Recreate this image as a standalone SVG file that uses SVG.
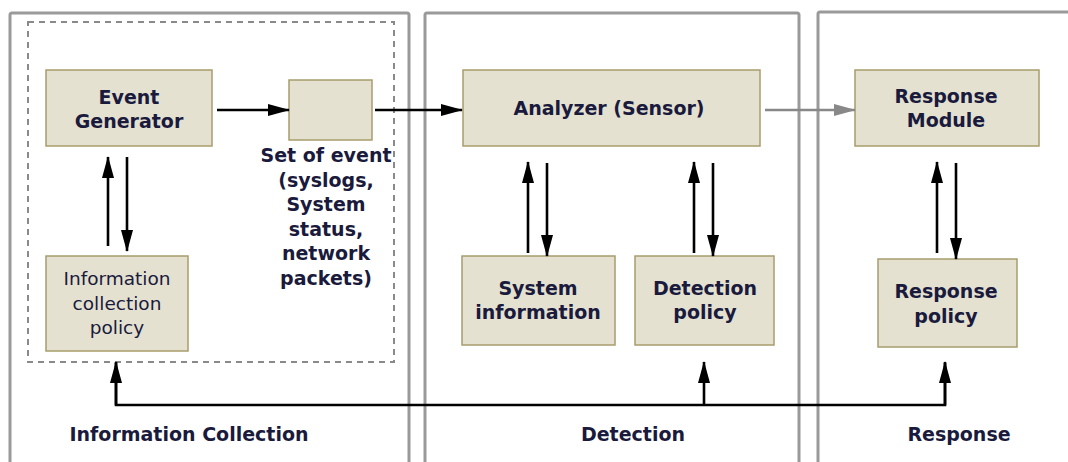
<svg xmlns="http://www.w3.org/2000/svg" width="1068" height="462" viewBox="0 0 1068 462">
<defs>
<marker id="ah" markerUnits="userSpaceOnUse" markerWidth="22" markerHeight="14" viewBox="0 0 22 14" refX="21" refY="7" orient="auto"><path d="M0,1 L22,7 L0,13 Z" fill="#000"/></marker>
<marker id="ahg" markerUnits="userSpaceOnUse" markerWidth="22" markerHeight="14" viewBox="0 0 22 14" refX="21" refY="7" orient="auto"><path d="M0,1 L22,7 L0,13 Z" fill="#888"/></marker>
<style>
.panel{fill:#fff;stroke:#9a9a9a;stroke-width:3}
.box{fill:#e4e1d1;stroke:#a89c6c;stroke-width:1.5}
.t{font-family:"DejaVu Sans",Verdana,sans-serif;font-size:19px;font-weight:bold;fill:#1a1a3c;text-anchor:middle}
.r{font-family:"DejaVu Sans",Verdana,sans-serif;font-size:18.5px;fill:#1a1a3c;text-anchor:middle}
.c{fill:none;stroke:#000;stroke-width:2.6}
.g{fill:none;stroke:#888;stroke-width:2.6}
</style>
</defs>
<rect width="1068" height="462" fill="#fff"/>
<g id="panels">
<path class="panel" d="M10,475 V15 Q10,13 12,13 H407 Q409,13 409,15 V475"/>
<path class="panel" d="M425,475 V15 Q425,13 427,13 H797 Q799,13 799,15 V475"/>
<path class="panel" d="M818,475 V14 Q818,12 820,12 H1080"/>
<rect x="28" y="22" width="366" height="340" fill="none" stroke="#8a8a8a" stroke-width="2" stroke-dasharray="6,5"/>
</g>
<g id="event-generator"><rect class="box" x="46" y="70" width="166" height="76"/><text class="t" x="129" y="104">Event</text><text class="t" x="129" y="128">Generator</text></g>
<g id="set-of-event"><rect class="box" x="289" y="80" width="83" height="60"/>
<text class="t" font-size="18.5" x="326" y="162">Set of event</text><text class="t" x="326" y="186.5">(syslogs,</text><text class="t" x="326" y="211">System</text><text class="t" x="326" y="235.5">status,</text><text class="t" x="326" y="260">network</text><text class="t" x="326" y="284.5">packets)</text></g>
<g id="info-collection-policy"><rect class="box" x="46" y="256" width="142" height="95"/><text class="r" x="117" y="285">Information</text><text class="r" x="117" y="310">collection</text><text class="r" x="117" y="334">policy</text></g>
<g id="analyzer"><rect class="box" x="463" y="70" width="297" height="76"/><text class="t" x="609" y="115">Analyzer (Sensor)</text></g>
<g id="system-information"><rect class="box" x="462" y="256" width="153" height="89"/><text class="t" x="538" y="295">System</text><text class="t" x="538" y="319">information</text></g>
<g id="detection-policy"><rect class="box" x="635" y="256" width="139" height="89"/><text class="t" x="705" y="295">Detection</text><text class="t" x="705" y="319">policy</text></g>
<g id="response-module"><rect class="box" x="855" y="70" width="184" height="76"/><text class="t" x="946" y="103">Response</text><text class="t" x="946" y="127">Module</text></g>
<g id="response-policy"><rect class="box" x="878" y="259" width="139" height="88"/><text class="t" x="946" y="298">Response</text><text class="t" x="946" y="323">policy</text></g>
<g id="labels">
<text class="t" x="189" y="441">Information Collection</text>
<text class="t" x="633" y="441">Detection</text>
<text class="t" x="959" y="441">Response</text>
</g>
<g id="connectors">
<line class="c" x1="217" y1="110" x2="289" y2="110" marker-end="url(#ah)"/>
<line class="c" x1="375" y1="110" x2="462" y2="110" marker-end="url(#ah)"/>
<line class="g" x1="765" y1="110" x2="855" y2="110" marker-end="url(#ahg)"/>
<line class="c" x1="108" y1="246" x2="108" y2="157" marker-end="url(#ah)"/>
<line class="c" x1="127" y1="157" x2="127" y2="251" marker-end="url(#ah)"/>
<line class="c" x1="528" y1="253" x2="528" y2="162" marker-end="url(#ah)"/>
<line class="c" x1="547" y1="163" x2="547" y2="256" marker-end="url(#ah)"/>
<line class="c" x1="694" y1="253" x2="694" y2="162" marker-end="url(#ah)"/>
<line class="c" x1="713" y1="163" x2="713" y2="256" marker-end="url(#ah)"/>
<line class="c" x1="937" y1="253" x2="937" y2="162" marker-end="url(#ah)"/>
<line class="c" x1="956" y1="163" x2="956" y2="259" marker-end="url(#ah)"/>
<polyline class="c" points="116,363 116,405 945,405 945,363"/>
<line class="c" x1="116" y1="405" x2="116" y2="362" marker-end="url(#ah)"/>
<line class="c" x1="945" y1="405" x2="945" y2="362" marker-end="url(#ah)"/>
<line class="c" x1="704" y1="405" x2="704" y2="362" marker-end="url(#ah)"/>
</g>
</svg>
